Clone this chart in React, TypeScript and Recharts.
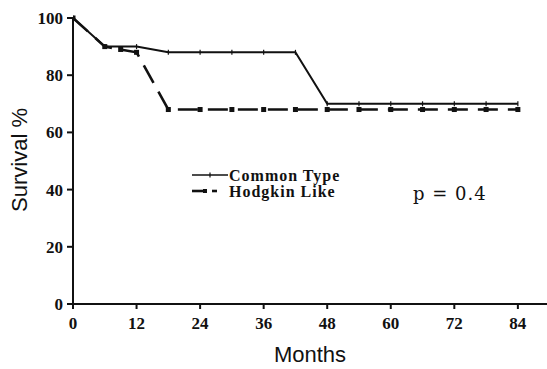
import { LineChart, Line, XAxis, YAxis } from "recharts";

const commonMonths = [0, 6, 12, 18, 24, 30, 36, 42, 48, 54, 60, 66, 72, 78, 84];
const commonSurvival = [100, 90, 90, 88, 88, 88, 88, 88, 70, 70, 70, 70, 70, 70, 70];

const hodgkinMonths = [0, 6, 9, 12, 18, 24, 30, 36, 42, 48, 54, 60, 66, 72, 78, 84];
const hodgkinSurvival = [100, 90, 89, 88, 68, 68, 68, 68, 68, 68, 68, 68, 68, 68, 68, 68];

const monthTicks = [0, 12, 24, 36, 48, 60, 72, 84];
const survivalTicks = [0, 20, 40, 60, 80, 100];

const commonData = commonMonths.map((m, i) => ({ month: m, survival: commonSurvival[i] }));
const hodgkinData = hodgkinMonths.map((m, i) => ({ month: m, survival: hodgkinSurvival[i] }));

const tickFont = { fill: "#111", fontSize: 17, fontWeight: 700, fontFamily: "Liberation Serif, serif" };

const CrossDot = (props: any) => {
  const { cx, cy } = props;
  if (cx == null || cy == null) return null;
  return (
    <g>
      <line x1={cx} y1={cy - 2.5} x2={cx} y2={cy + 2.5} stroke="#111" strokeWidth={1.2} />
    </g>
  );
};

const SquareDot = (props: any) => {
  const { cx, cy } = props;
  if (cx == null || cy == null) return null;
  return <rect x={cx - 2.5} y={cy - 2.5} width={5} height={5} fill="#111" />;
};

export default function App() {
  return (
    <div style={{ position: "absolute", left: 0, top: 0, width: 547, height: 369, background: "#fff" }}>
      <LineChart width={547} height={369} margin={{ top: 18, right: 0, bottom: 0, left: 0 }}>
        <XAxis
          type="number"
          dataKey="month"
          domain={[0, 89.5]}
          ticks={monthTicks}
          allowDataOverflow
          axisLine={{ stroke: "#111", strokeWidth: 2 }}
          tickLine={{ stroke: "#111", strokeWidth: 2 }}
          tickSize={5}
          tickMargin={8}
          tick={tickFont}
          height={65}
          label={{
            value: "Months",
            position: "insideBottom",
            offset: 7,
            style: { fontSize: 22, fontFamily: "Liberation Sans, Arial, sans-serif", fill: "#111" },
          }}
        />
        <YAxis
          type="number"
          domain={[0, 100]}
          ticks={survivalTicks}
          axisLine={{ stroke: "#111", strokeWidth: 2 }}
          tickLine={{ stroke: "#111", strokeWidth: 2 }}
          tickSize={6}
          tickMargin={4}
          tick={tickFont}
          width={73}
        />
        <Line
          data={commonData}
          dataKey="survival"
          type="linear"
          stroke="#111"
          strokeWidth={2}
          dot={<CrossDot />}
          isAnimationActive={false}
        />
        <Line
          data={hodgkinData}
          dataKey="survival"
          type="linear"
          stroke="#111"
          strokeWidth={2.6}
          strokeDasharray="20 10"
          dot={<SquareDot />}
          isAnimationActive={false}
        />
      </LineChart>
      <svg
        width={547}
        height={369}
        style={{ position: "absolute", left: 0, top: 0, pointerEvents: "none" }}
      >
        <text
          transform="translate(27,160) rotate(-90)"
          textAnchor="middle"
          style={{ fontSize: 22, fontFamily: "Liberation Sans, Arial, sans-serif", fill: "#111" }}
        >
          Survival %
        </text>
        <line x1={192} y1={175} x2={228} y2={175} stroke="#111" strokeWidth={1.5} />
        <line x1={210} y1={172.5} x2={210} y2={177.5} stroke="#111" strokeWidth={1.2} />
        <text x={229} y={181} style={{ fontSize: 16, fontWeight: 700, fontFamily: "Liberation Serif, serif", letterSpacing: 1, fill: "#111" }}>
          Common Type
        </text>
        <line x1={192} y1={191} x2={207} y2={191} stroke="#111" strokeWidth={2.6} />
        <rect x={203} y={189} width={4} height={4} fill="#111" />
        <line x1={212} y1={191} x2={217} y2={191} stroke="#111" strokeWidth={2.6} />
        <text x={229} y={197} style={{ fontSize: 16, fontWeight: 700, fontFamily: "Liberation Serif, serif", letterSpacing: 1, fill: "#111" }}>
          Hodgkin Like
        </text>
        <text x={413} y={200} style={{ fontSize: 18, fontFamily: "DejaVu Serif, serif", letterSpacing: 1, fill: "#111" }}>
          p = 0.4
        </text>
      </svg>
    </div>
  );
}
